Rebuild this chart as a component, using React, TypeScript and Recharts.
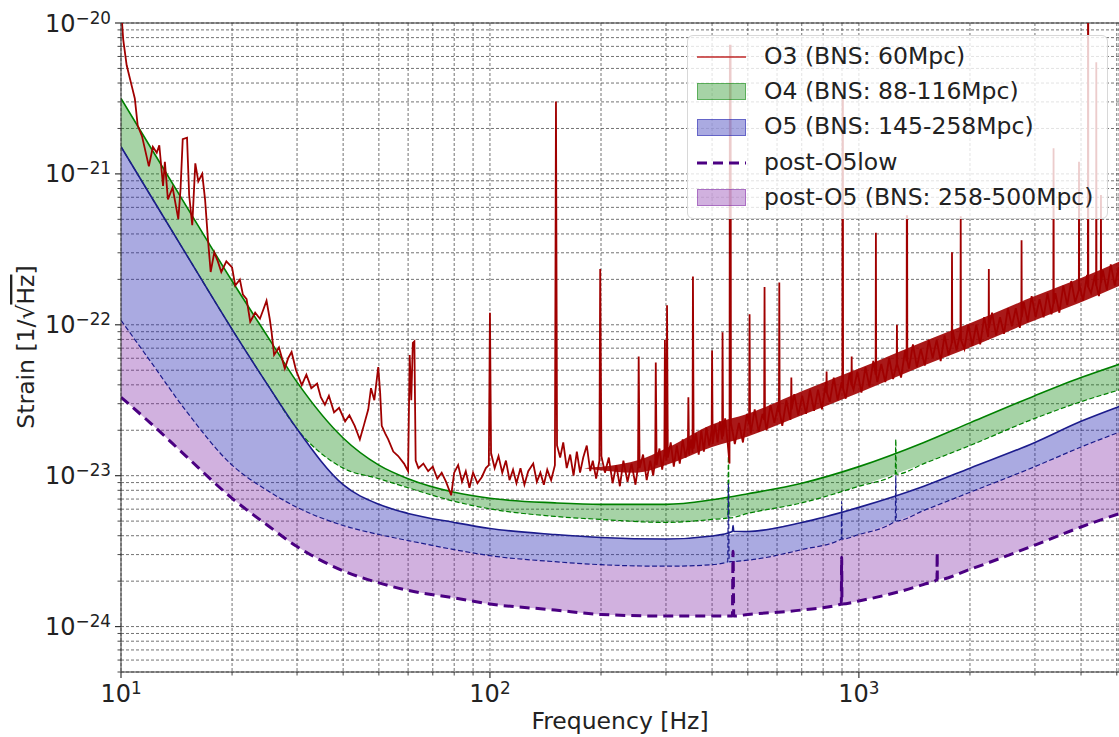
import {
  ComposedChart,
  Area,
  Line,
  XAxis,
  YAxis,
  CartesianGrid,
  ReferenceLine,
  Legend,
} from "recharts";

// design curves share one frequency grid (Hz); values are log10(strain)
const FREQ = [10, 12, 15, 20, 25, 30, 40, 50, 60, 80, 100, 150, 200, 300, 400, 500, 700, 1000, 1500, 2000, 3000, 4000, 5100];
const O4_HIGH = [-20.5, -20.82, -21.21, -21.71, -22.08, -22.38, -22.75, -22.93, -23.02, -23.11, -23.15, -23.18, -23.19, -23.19, -23.16, -23.12, -23.05, -22.94, -22.78, -22.65, -22.47, -22.35, -22.26];
const O4_LOW = [-20.82, -21.14, -21.53, -22.03, -22.4, -22.69, -22.95, -23.02, -23.08, -23.17, -23.22, -23.27, -23.29, -23.31, -23.29, -23.25, -23.18, -23.07, -22.92, -22.8, -22.62, -22.51, -22.43];
const O5_HIGH = [-20.82, -21.14, -21.53, -22.03, -22.4, -22.69, -23.06, -23.19, -23.25, -23.31, -23.35, -23.39, -23.41, -23.42, -23.4, -23.37, -23.31, -23.21, -23.07, -22.95, -22.78, -22.64, -22.54];
const O5_LOW = [-21.97, -22.24, -22.57, -22.93, -23.1, -23.21, -23.33, -23.39, -23.43, -23.49, -23.53, -23.57, -23.59, -23.6, -23.59, -23.56, -23.49, -23.39, -23.23, -23.11, -22.94, -22.81, -22.71];
const POST_LOW = [-22.48, -22.65, -22.87, -23.15, -23.33, -23.47, -23.63, -23.71, -23.76, -23.81, -23.85, -23.89, -23.92, -23.93, -23.93, -23.92, -23.89, -23.83, -23.72, -23.62, -23.46, -23.34, -23.25];

// narrow calibration lines on the design curves [Hz, log10 strain]
const O4_LOW_SPIKES: [number, number][] = [[441, -23.28], [443, -22.87], [445, -23.28], [1255, -22.99], [1259, -22.76], [1263, -22.99]];
const O5_HIGH_SPIKES: [number, number][] = [[454, -23.37], [456, -23.33], [458, -23.37]];
const O5_LOW_SPIKES: [number, number][] = [[441, -23.57], [443, -23.05], [445, -23.57], [896, -23.42], [898, -23.17], [900, -23.42], [1255, -23.3], [1259, -23.0], [1263, -23.3]];
const POST_SPIKES: [number, number][] = [[454, -23.93], [456, -23.5], [458, -23.93], [896, -23.85], [898, -23.54], [900, -23.85], [1628, -23.69], [1630, -23.51], [1632, -23.69]];

// measured O3 spectrum [Hz, log10 strain]
const O3_POINTS: [number, number][] = [
  [10, -19.9], [10.14, -20.11], [10.36, -20.28], [10.7, -20.42], [10.9, -20.5], [11.1, -20.68], [11.4, -20.75],
  [11.9, -20.95], [12.2, -20.82], [12.5, -20.86], [12.7, -20.81], [13.0, -21.08], [13.15, -20.92], [13.4, -21.17],
  [13.8, -21.09], [14.3, -21.3], [14.5, -21.1], [14.7, -20.77], [15.1, -20.76], [15.3, -21.14], [15.6, -21.34],
  [15.9, -20.93], [16.2, -21.05], [16.6, -21.0], [16.9, -21.17], [17.2, -21.43], [17.5, -21.65], [17.9, -21.52],
  [18.3, -21.58], [18.7, -21.65], [19.3, -21.58], [20.0, -21.62], [20.4, -21.74], [21.0, -21.7], [21.4, -21.8],
  [21.9, -21.83], [22.4, -21.98], [23.1, -21.92], [23.8, -21.96], [24.3, -21.9], [24.8, -21.84], [25.3, -21.96],
  [25.6, -22.05], [26.0, -22.2], [26.8, -22.15], [27.8, -22.29], [28.4, -22.22], [29.0, -22.18], [29.8, -22.3],
  [30.9, -22.4], [31.8, -22.33], [32.8, -22.42], [34.0, -22.39], [34.8, -22.48], [35.7, -22.53], [36.6, -22.47],
  [37.8, -22.58], [39.0, -22.55], [40.5, -22.64], [41.6, -22.6], [43.0, -22.67], [44.4, -22.76], [45.6, -22.66],
  [46.8, -22.56], [47.6, -22.42], [48.6, -22.5], [49.8, -22.28], [50.4, -22.45], [50.9, -22.67], [52.0, -22.72],
  [53.0, -22.76], [54.7, -22.84], [56.4, -22.87], [58.5, -22.92], [60.0, -22.97], [60.6, -22.2], [61.2, -22.5],
  [61.8, -22.12], [62.4, -22.11], [62.9, -22.9], [64.0, -22.95], [66.0, -22.92], [68.0, -22.97], [70.0, -22.94],
  [72.0, -23.02], [74.0, -22.98], [76.0, -23.04], [78.5, -23.13], [80.0, -22.98], [82.0, -22.93], [84.0, -23.04],
  [86.0, -22.97], [88.0, -23.08], [90.0, -22.98], [92.5, -23.05], [95.0, -23.01], [97.5, -22.95], [99.3, -22.93],
  [100.0, -21.92], [100.7, -22.85], [103, -22.95], [105.5, -22.87], [108, -22.98], [110.5, -22.9], [113, -23.03],
  [115.5, -22.96], [118, -23.05], [121, -22.95], [124, -23.06], [127, -22.97], [131, -22.92], [134, -23.04],
  [137, -22.98], [140, -23.06], [143, -22.96], [146.5, -23.03], [150, -22.93], [151, -20.52], [152, -22.8],
  [155, -22.88], [158, -22.78], [161.5, -22.95], [165, -22.86], [168.5, -23.0], [172, -22.84], [175.5, -22.98],
  [179, -22.88], [183, -22.8], [187, -22.97], [190, -22.9], [194, -23.02], [198, -22.9], [199, -21.63],
  [200.5, -22.87], [205, -22.98], [210, -22.88], [215, -23.05], [220, -22.93], [225, -23.07], [230, -22.9],
  [236, -23.04], [242, -22.92], [248, -23.06], [252, -22.94], [253, -22.21], [254.5, -22.95], [260, -22.86],
  [266, -23.03], [272, -22.9], [277, -23.0], [280.5, -22.9], [281.5, -22.25], [283, -22.93], [288, -22.82],
  [293, -22.96], [297, -22.85], [298, -22.1], [299.5, -22.86], [301, -22.9], [302, -21.87], [303.5, -22.88],
  [309, -22.78], [315, -22.94], [321, -22.8], [327, -22.92], [333, -22.76], [339, -22.88], [344, -22.8],
  [345, -22.48], [346.5, -22.86], [351, -22.76], [354, -22.85], [355, -21.68], [356.5, -22.82], [362, -22.72],
  [368, -22.86], [374, -22.7], [380, -22.84], [386, -22.68], [393, -22.8], [399, -22.7], [400, -22.17],
  [401.5, -22.79], [408, -22.66], [414, -22.78], [420, -22.64], [426, -22.76], [427, -22.05], [428.5, -22.74],
  [434, -22.62], [440, -22.76], [446, -22.92], [447, -20.15], [449, -20.15], [450, -22.65], [461, -22.79],
  [473, -22.65], [485, -22.78], [497, -22.59], [504, -22.66], [505.5, -21.93], [507, -22.66], [509, -22.72],
  [522, -22.56], [535, -22.71], [548, -22.59], [553.5, -22.63], [555, -21.75], [556.5, -22.63], [562, -22.7],
  [576, -22.53], [590, -22.65], [605, -22.53], [607, -22.58], [608.5, -21.72], [610, -22.58], [620, -22.67],
  [636, -22.5], [652, -22.63], [654.5, -22.56], [656, -22.35], [657.5, -22.56], [668, -22.46], [685, -22.6],
  [702, -22.47], [719, -22.59], [737, -22.43], [756, -22.57], [775, -22.43], [794, -22.56], [814, -22.38],
  [816, -22.45], [817.5, -22.31], [819, -22.45], [834, -22.51], [855, -22.35], [876, -22.5], [898, -22.38],
  [902, -22.42], [903, -20.5], [905, -20.5], [906, -22.42], [921, -22.49], [944, -22.32], [954.5, -22.4],
  [956, -22.21], [957.5, -22.4], [967, -22.43], [991, -22.31], [1016, -22.45], [1042, -22.28], [1068, -22.41],
  [1094, -22.24], [1110, -22.33], [1112, -21.39], [1114, -22.33], [1122, -22.38], [1150, -22.26], [1179, -22.38],
  [1208, -22.22], [1238, -22.36], [1266, -22.26], [1268, -22.0], [1270, -22.26], [1301, -22.35], [1334, -22.17],
  [1347, -22.24], [1348.5, -21.28], [1351.5, -21.28], [1353, -22.24], [1367, -22.29], [1401, -22.13],
  [1436, -22.28], [1472, -22.16], [1509, -22.27], [1547, -22.1], [1585, -22.22], [1625, -22.1], [1666, -22.24],
  [1707, -22.07], [1750, -22.2], [1785, -22.12], [1788, -21.52], [1791, -22.12], [1794, -22.03], [1839, -22.17],
  [1885, -22.05], [1888, -21.28], [1891, -22.1], [1932, -22.16], [1980, -22.0], [2030, -22.14], [2080, -22.0],
  [2132, -22.13], [2186, -21.95], [2240, -22.08], [2247, -22.02], [2250, -21.63], [2253, -22.02], [2296, -21.92],
  [2354, -22.07], [2413, -21.95], [2473, -22.06], [2535, -21.89], [2598, -22.01], [2663, -21.89], [2730, -22.02],
  [2756, -21.95], [2760, -21.44], [2764, -21.95], [2798, -21.85], [2868, -21.98], [2940, -21.81], [3013, -21.95],
  [3088, -21.83], [3166, -21.95], [3245, -21.79], [3326, -21.93], [3365, -21.86], [3370, -20.83], [3375, -21.86],
  [3409, -21.79], [3494, -21.92], [3582, -21.74], [3671, -21.87], [3763, -21.71], [3857, -21.85], [3946, -21.77],
  [3950, -20.92], [3954, -21.73], [4052, -21.84], [4154, -21.67], [4175, -21.75], [4178, -19.9], [4184, -19.9],
  [4187, -21.75], [4258, -21.79], [4364, -21.67], [4395, -21.74], [4400, -20.26], [4405, -21.74], [4473, -21.81],
  [4525, -21.72], [4530, -21.14], [4535, -21.72], [4585, -21.64], [4700, -21.77], [4817, -21.6], [4938, -21.74],
  [5061, -21.62], [5100, -21.74],
];

// envelope of the dense O3 noise floor
const O3_BAND_FREQ = [180, 250, 300, 400, 500, 700, 1000, 1500, 2000, 3000, 4000, 5100];
const O3_BAND_LOW = [-22.95, -22.98, -22.93, -22.81, -22.74, -22.6, -22.45, -22.27, -22.15, -21.97, -21.85, -21.74];
const O3_BAND_HIGH = [-22.95, -22.9, -22.82, -22.66, -22.59, -22.44, -22.29, -22.11, -21.99, -21.81, -21.69, -21.58];

const X_TICKS = [10, 20, 30, 40, 50, 60, 70, 80, 90, 100, 200, 300, 400, 500, 600, 700, 800, 900, 1000, 2000, 3000, 4000, 5000];
const Y_TICKS = [
  5e-25, 6e-25, 7e-25, 8e-25, 9e-25,
  1e-24, 2e-24, 3e-24, 4e-24, 5e-24, 6e-24, 7e-24, 8e-24, 9e-24,
  1e-23, 2e-23, 3e-23, 4e-23, 5e-23, 6e-23, 7e-23, 8e-23, 9e-23,
  1e-22, 2e-22, 3e-22, 4e-22, 5e-22, 6e-22, 7e-22, 8e-22, 9e-22,
  1e-21, 2e-21, 3e-21, 4e-21, 5e-21, 6e-21, 7e-21, 8e-21, 9e-21,
  1e-20,
];

const LEGEND_LABELS = [
  "O3 (BNS: 60Mpc)",
  "O4 (BNS: 88-116Mpc)",
  "O5 (BNS: 145-258Mpc)",
  "post-O5low",
  "post-O5 (BNS: 258-500Mpc)",
];

const FONT = "'DejaVu Sans', sans-serif";
const RED = "#a00000";
const GREEN = "#008000";
const BLUE = "#1c1c8c";
const PURPLE = "#4b0082";
const GREEN_FILL = "#008000";
const BLUE_FILL = "#2020b0";
const PURPLE_FILL = "#7a1fa2";

const p = (e: number) => Math.pow(10, e);

const bandData = FREQ.map((f, i) => ({
  f,
  o4: [p(O4_LOW[i]), p(O4_HIGH[i])],
  o5: [p(O5_LOW[i]), p(O5_HIGH[i])],
  post: [p(POST_LOW[i]), p(O5_LOW[i])],
}));

const curve = (vals: number[], spikes: [number, number][] = []) =>
  [...FREQ.map((f, i) => [f, vals[i]] as [number, number]), ...spikes]
    .sort((a, b) => a[0] - b[0])
    .map(([f, e]) => ({ f, v: p(e) }));

const o4High = curve(O4_HIGH);
const o4Low = curve(O4_LOW, O4_LOW_SPIKES);
const o5High = curve(O5_HIGH, O5_HIGH_SPIKES);
const o5Low = curve(O5_LOW, O5_LOW_SPIKES);
const postLow = curve(POST_LOW, POST_SPIKES);
const o3Data = O3_POINTS.map(([f, e]) => ({ f, v: p(e) }));
const o3Band = O3_BAND_FREQ.map((f, i) => ({ f, r: [p(O3_BAND_LOW[i]), p(O3_BAND_HIGH[i])] }));

const isDecade = (v: number) => {
  const l = Math.log10(v);
  return Math.abs(l - Math.round(l)) < 1e-6;
};

function XTick(props: any) {
  const { x, y, payload } = props;
  const major = isDecade(payload.value);
  return (
    <g>
      <line x1={x} x2={x} y1={y} y2={y + (major ? 6 : 3.5)} stroke="#333" strokeWidth={major ? 1.2 : 0.9} />
      {major && (
        <text x={x} y={y + 30} textAnchor="middle" fontSize={24} fill="#222" fontFamily={FONT}>
          10
          <tspan dy={-8.5} fontSize={16.8}>
            {Math.round(Math.log10(payload.value))}
          </tspan>
        </text>
      )}
    </g>
  );
}

function YTick(props: any) {
  const { x, y, payload } = props;
  const major = isDecade(payload.value);
  const exp = Math.round(Math.log10(payload.value));
  return (
    <g>
      <line x1={x - (major ? 6 : 3.5)} x2={x} y1={y} y2={y} stroke="#333" strokeWidth={major ? 1.2 : 0.9} />
      {major && (
        <text x={x - 10} y={y + 8.5} textAnchor="end" fontSize={24} fill="#222" fontFamily={FONT}>
          10
          <tspan dy={-8} fontSize={16.8}>
            {"\u2212" + Math.abs(exp)}
          </tspan>
        </text>
      )}
    </g>
  );
}

function XLabel() {
  return (
    <text x={620} y={729} textAnchor="middle" fontSize={23.5} fill="#222" fontFamily={FONT}>
      Frequency [Hz]
    </text>
  );
}

function YLabel() {
  return (
    <text
      x={34}
      y={347}
      textAnchor="middle"
      fontSize={23.5}
      fill="#222"
      fontFamily={FONT}
      transform="rotate(-90, 34, 347)"
    >
      Strain [1/{"\u221A"}
      <tspan style={{ textDecoration: "overline" }}>Hz</tspan>]
    </text>
  );
}

function LegendBox() {
  const handles = [
    <svg width={49} height={20}><line x1={0} x2={49} y1={10} y2={10} stroke="#c02828" strokeWidth={1.6} /></svg>,
    <div style={{ width: 47, height: 15, background: "rgba(0,128,0,0.35)", border: "1px solid rgba(0,128,0,0.45)" }} />,
    <div style={{ width: 47, height: 15, background: "rgba(32,32,176,0.38)", border: "1px solid rgba(32,32,176,0.5)" }} />,
    <svg width={49} height={20}><line x1={0} x2={49} y1={10} y2={10} stroke={PURPLE} strokeWidth={3} strokeDasharray="10 6" /></svg>,
    <div style={{ width: 47, height: 15, background: "rgba(122,31,162,0.35)", border: "1px solid rgba(122,31,162,0.45)" }} />,
  ];
  return (
    <div
      style={{
        background: "rgba(255,255,255,0.8)",
        border: "1px solid #d8d8d8",
        borderRadius: 6,
        padding: "3px 8px 3px 9px",
        fontFamily: FONT,
        fontSize: 23.5,
        color: "#222",
      }}
    >
      {LEGEND_LABELS.map((label, i) => (
        <div key={label} style={{ display: "flex", alignItems: "center", height: 35.3 }}>
          <div style={{ width: 49, display: "flex", alignItems: "center", justifyContent: "center" }}>{handles[i]}</div>
          <span style={{ marginLeft: 18, whiteSpace: "nowrap", lineHeight: 1 }}>{label}</span>
        </div>
      ))}
    </div>
  );
}

export default function App() {
  return (
    <div style={{ position: "absolute", left: 0, top: 0, width: 1119, height: 737, background: "#fff", overflow: "hidden" }}>
      <ComposedChart width={1119} height={737} margin={{ top: 23, right: 0, bottom: 0, left: 0 }}>
        <CartesianGrid stroke="#444" strokeDasharray="3 2" strokeOpacity={0.75} />
        <XAxis
          dataKey="f"
          type="number"
          scale="log"
          domain={[10, 5070]}
          allowDataOverflow
          ticks={X_TICKS}
          interval={0}
          tick={<XTick />}
          tickLine={false}
          tickSize={0}
          tickMargin={0}
          height={65}
          stroke="#333"
          label={<XLabel />}
        />
        <YAxis
          type="number"
          scale="log"
          domain={[5e-25, 1e-20]}
          allowDataOverflow
          ticks={Y_TICKS}
          interval={0}
          tick={<YTick />}
          tickLine={false}
          tickSize={0}
          tickMargin={0}
          width={121}
          stroke="#333"
          label={<YLabel />}
        />
        <ReferenceLine y={1e-20} stroke="#333" strokeWidth={1.2} />

        <Area data={bandData} dataKey="o4" type="monotone" fill={GREEN_FILL} fillOpacity={0.35} stroke="none" isAnimationActive={false} />
        <Area data={bandData} dataKey="o5" type="monotone" fill={BLUE_FILL} fillOpacity={0.38} stroke="none" isAnimationActive={false} />
        <Area data={bandData} dataKey="post" type="monotone" fill={PURPLE_FILL} fillOpacity={0.35} stroke="none" isAnimationActive={false} />

        <Line data={o4Low} dataKey="v" type="monotone" stroke={GREEN} strokeWidth={1.2} strokeDasharray="5 2.5" dot={false} isAnimationActive={false} />
        <Line data={o4High} dataKey="v" type="monotone" stroke={GREEN} strokeWidth={1.6} dot={false} isAnimationActive={false} />
        <Line data={o5Low} dataKey="v" type="monotone" stroke={BLUE} strokeWidth={1.2} strokeDasharray="5 2.5" dot={false} isAnimationActive={false} />
        <Line data={o5High} dataKey="v" type="monotone" stroke={BLUE} strokeWidth={1.6} dot={false} isAnimationActive={false} />
        <Line data={postLow} dataKey="v" type="monotone" stroke={PURPLE} strokeWidth={3} strokeDasharray="10 6" dot={false} isAnimationActive={false} />

        <Area data={o3Band} dataKey="r" type="monotone" fill={RED} fillOpacity={0.9} stroke="none" isAnimationActive={false} />
        <Line data={o3Data} dataKey="v" type="linear" stroke={RED} strokeWidth={1.8} dot={false} isAnimationActive={false} />

        <Legend
          content={() => <LegendBox />}
          layout="horizontal"
          align="center"
          verticalAlign="middle"
          wrapperStyle={{ left: 687, top: 35, width: 421 }}
        />
      </ComposedChart>
    </div>
  );
}
